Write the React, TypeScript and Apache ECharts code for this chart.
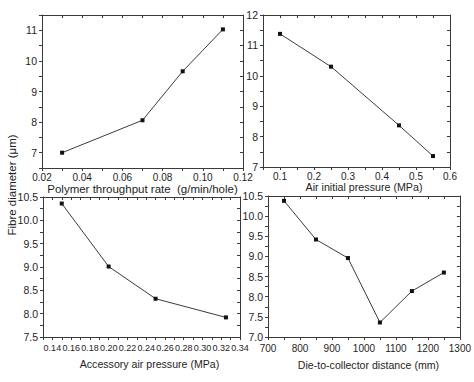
import React, { useEffect, useRef } from "react";
import * as echarts from "echarts";

// ---- data ----
const polymerRate = [0.03, 0.07, 0.09, 0.11];
const polymerDiameter = [7.0, 8.06, 9.66, 11.03];

const airInitialPressure = [0.1, 0.25, 0.45, 0.55];
const airInitialDiameter = [11.38, 10.3, 8.37, 7.36];

const accessoryPressure = [0.15, 0.2, 0.25, 0.325];
const accessoryDiameter = [10.36, 9.01, 8.32, 7.92];

const dieDistance = [750, 850, 950, 1050, 1150, 1250];
const dieDiameter = [10.38, 9.42, 8.96, 7.36, 8.14, 8.6];

const xTitles = [
  "Polymer throughput rate  (g/min/hole)",
  "Air initial pressure (MPa)",
  "Accessory air pressure (MPa)",
  "Die-to-collector distance (mm)",
];
const yTitle = "Fibre diameter (\u03bcm)";

// axis ranges: [min, max, tick interval, label step, decimals]
const xRanges = [
  [0.02, 0.12, 0.01, 0.02, 2],
  [0.05, 0.6, 0.05, 0.1, 1],
  [0.13, 0.34, 0.01, 0.02, 2],
  [700, 1300, 50, 100, 0],
];
const yRanges = [
  [6.5, 11.5, 0.5, 1, 0],
  [7, 12, 0.5, 1, 0],
  [7.5, 10.5, 0.25, 0.5, 1],
  [7, 10.5, 0.25, 0.5, 1],
];

const FONT = "'Liberation Sans', Arial, sans-serif";
const AXIS_COLOR = "#3a3a3a";
const TEXT_COLOR = "#1e1e1e";

const grids = [
  { left: 42, top: 15, width: 201, height: 153 },
  { left: 263, top: 15, width: 187, height: 152 },
  { left: 43, top: 197, width: 197, height: 140 },
  { left: 268, top: 196, width: 196, height: 141 },
];
const xNameGaps = [13, 13, 21, 22];
const xNameSizes = [11.5, 10.7, 10.6, 10.6];
const xNamePadLeft = [0, 15, 16, 9];
const xLabelMargins = [4, 4, 6, 6];
const xLabelSizes = [10, 10, 9, 10];

function isMultiple(v: number, step: number) {
  const r = v / step;
  return Math.abs(r - Math.round(r)) < 1e-6;
}

function makeFormatter(step: number, dec: number) {
  return (v: number) => (isMultiple(v, step) ? v.toFixed(dec) : "");
}

export default function App() {
  const ref = useRef<HTMLDivElement>(null);

  useEffect(() => {
    if (!ref.current) return;
    const chart = echarts.init(ref.current, undefined, { renderer: "svg" });

    const xData = [polymerRate, airInitialPressure, accessoryPressure, dieDistance];
    const yData = [polymerDiameter, airInitialDiameter, accessoryDiameter, dieDiameter];

    const xAxis: any[] = [];
    const yAxis: any[] = [];
    const series: any[] = [];

    for (let i = 0; i < 4; i++) {
      const [xmin, xmax, xint, xstep, xdec] = xRanges[i];
      const [ymin, ymax, yint, ystep, ydec] = yRanges[i];
      const common = {
        gridIndex: i,
        type: "value",
        splitLine: { show: false },
        axisLine: { show: true, lineStyle: { color: AXIS_COLOR, width: 1 } },
      };
      xAxis.push({
        ...common,
        position: "bottom",
        min: xmin,
        max: xmax,
        interval: xint,
        axisTick: { show: true, inside: false, length: 3, lineStyle: { color: AXIS_COLOR } },
        axisLabel: {
          formatter: makeFormatter(xstep, xdec),
          fontSize: xLabelSizes[i],
          fontFamily: FONT,
          color: TEXT_COLOR,
          margin: xLabelMargins[i],
          showMinLabel: true,
          showMaxLabel: true,
        },
        name: xTitles[i],
        nameLocation: "middle",
        nameGap: xNameGaps[i],
        nameTextStyle: {
          fontSize: xNameSizes[i],
          fontFamily: FONT,
          color: TEXT_COLOR,
          verticalAlign: "top",
          padding: [0, 0, 0, xNamePadLeft[i]],
        },
      });
      xAxis.push({
        ...common,
        position: "top",
        min: xmin,
        max: xmax,
        interval: xint,
        axisTick: { show: true, inside: true, length: 3, lineStyle: { color: AXIS_COLOR } },
        axisLabel: { show: false },
      });
      yAxis.push({
        ...common,
        position: "left",
        min: ymin,
        max: ymax,
        interval: yint,
        axisTick: { show: true, inside: false, length: 3, lineStyle: { color: AXIS_COLOR } },
        axisLabel: {
          formatter: makeFormatter(ystep, ydec),
          fontSize: 10.5,
          fontFamily: FONT,
          color: TEXT_COLOR,
          margin: 5,
          showMinLabel: true,
          showMaxLabel: true,
        },
      });
      yAxis.push({
        ...common,
        position: "right",
        min: ymin,
        max: ymax,
        interval: yint,
        axisTick: { show: true, inside: true, length: 3, lineStyle: { color: AXIS_COLOR } },
        axisLabel: { show: false },
      });
      series.push({
        type: "line",
        xAxisIndex: i * 2,
        yAxisIndex: i * 2,
        data: xData[i].map((x, k) => [x, yData[i][k]]),
        symbol: "rect",
        symbolSize: 4,
        lineStyle: { color: "#3c3c3c", width: 1 },
        itemStyle: { color: "#111" },
      });
    }

    chart.setOption({
      animation: false,
      backgroundColor: "#ffffff",
      grid: grids,
      xAxis,
      yAxis,
      series,
      graphic: [
        {
          type: "text",
          x: 6,
          y: 185,
          rotation: Math.PI / 2,
          style: {
            text: yTitle,
            fontSize: 11.5,
            fontFamily: FONT,
            fill: TEXT_COLOR,
            align: "center",
            verticalAlign: "top",
          },
        },
      ],
    });

    return () => chart.dispose();
  }, []);

  return (
    <div
      ref={ref}
      style={{ position: "fixed", left: 0, top: 0, width: 474, height: 382, background: "#fff" }}
    />
  );
}
